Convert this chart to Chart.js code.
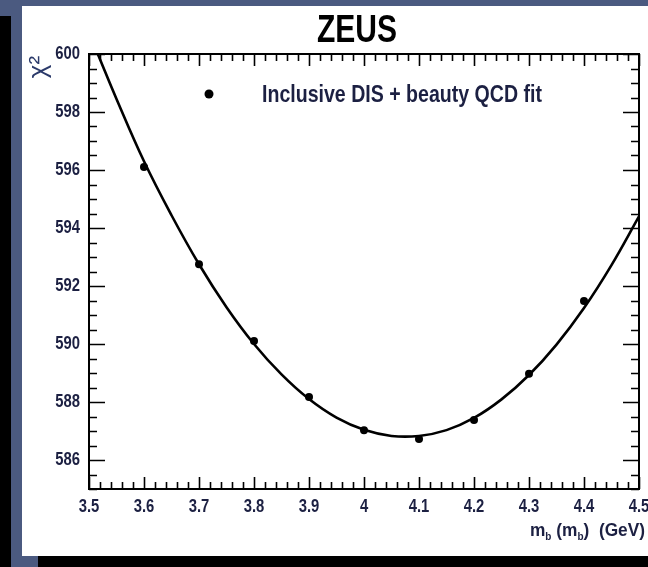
<!DOCTYPE html>
<html>
<head>
<meta charset="utf-8">
<script src="https://cdn.jsdelivr.net/npm/chart.js@4.4.0/dist/chart.umd.min.js"></script>
<style>
  html, body { margin: 0; padding: 0; }
  body { width: 648px; height: 567px; position: relative; overflow: hidden; background: #4b5a80; }
  #stripLeft { position: absolute; left: 0; top: 16px; width: 11px; height: 551px; background: #000; }
  #stripBottom { position: absolute; left: 38px; top: 556px; width: 610px; height: 11px; background: #000; }
  #panel { position: absolute; left: 22px; top: 6px; width: 626px; height: 550px; background: #fff; }
</style>
</head>
<body>
<div id="stripLeft"></div>
<div id="stripBottom"></div>
<div id="panel"><canvas id="chi2Chart" width="626" height="550"></canvas></div>
<script>
// measured points: chi2 vs b-quark mass
const massPoints = [3.6, 3.7, 3.8, 3.9, 4.0, 4.1, 4.2, 4.3, 4.4];
const chi2Points = [596.1, 592.75, 590.1, 588.17, 587.03, 586.72, 587.38, 588.97, 591.48];

// fitted curve
const fitMass = [3.516, 3.55, 3.6, 3.65, 3.7, 3.75, 3.8, 3.85, 3.9, 3.95, 4.0,
                 4.05, 4.1, 4.15, 4.2, 4.25, 4.3, 4.35, 4.4, 4.45, 4.5];
const fitChi2 = [600.0, 598.45, 596.3, 594.44, 592.75, 591.27, 590.0, 588.95, 588.1, 587.46, 587.04,
                 586.83, 586.83, 587.03, 587.45, 588.09, 588.93, 589.98, 591.24, 592.72, 594.4];

// axes
const xTicks = [3.5, 3.6, 3.7, 3.8, 3.9, 4.0, 4.1, 4.2, 4.3, 4.4, 4.5];
const xTickLabels = ['3.5', '3.6', '3.7', '3.8', '3.9', '4', '4.1', '4.2', '4.3', '4.4', '4.5'];
const yTicks = [586, 588, 590, 592, 594, 596, 598, 600];
const xMinorStep = 0.02;
const yMinorStep = 0.5;

const sans = "'Liberation Sans', Arial, sans-serif";
const textColor = '#1c2042';

// draw text squeezed horizontally (no narrow font installed)
function squeezed(ctx, text, x, y, font, align, sx) {
  ctx.save();
  ctx.font = font;
  ctx.translate(x, y);
  ctx.scale(sx, 1);
  ctx.textAlign = align;
  ctx.fillText(text, 0, 0);
  ctx.restore();
}
// squeeze factor so that text fits a given width
function fitFactor(ctx, text, font, width) {
  ctx.save();
  ctx.font = font;
  const w = ctx.measureText(text).width;
  ctx.restore();
  return width / w;
}

// ROOT style frame with inward ticks on all four sides, plus the texts
const zeusFrame = {
  id: 'zeusFrame',
  afterDatasetsDraw(chart) {
    const ctx = chart.ctx;
    const a = chart.chartArea;
    const xs = chart.scales.x, ys = chart.scales.y;
    ctx.save();
    ctx.strokeStyle = '#000';
    ctx.lineWidth = 2;
    ctx.strokeRect(a.left, a.top, a.right - a.left, a.bottom - a.top);

    ctx.lineWidth = 1.6;
    ctx.beginPath();
    for (let v = xs.min; v <= xs.max + 1e-9; v += xMinorStep) {
      const px = Math.round(xs.getPixelForValue(v)) + 0.5;
      const major = xTicks.some(t => Math.abs(t - v) < 1e-6);
      const len = major ? 12 : 7;
      ctx.moveTo(px, a.bottom); ctx.lineTo(px, a.bottom - len);
      ctx.moveTo(px, a.top); ctx.lineTo(px, a.top + len);
    }
    for (let v = ys.min; v <= ys.max + 1e-9; v += yMinorStep) {
      const py = Math.round(ys.getPixelForValue(v)) + 0.5;
      const major = yTicks.includes(v);
      const len = major ? 16 : 8;
      ctx.moveTo(a.left, py); ctx.lineTo(a.left + len, py);
      ctx.moveTo(a.right, py); ctx.lineTo(a.right - len, py);
    }
    ctx.stroke();

    // tick labels
    const tickFont = 'bold 19px ' + sans;
    ctx.fillStyle = textColor;
    ctx.textBaseline = 'middle';
    yTicks.forEach(v => squeezed(ctx, String(v), a.left - 9, ys.getPixelForValue(v), tickFont, 'right', 0.78));
    xTicks.forEach((v, i) => squeezed(ctx, xTickLabels[i], xs.getPixelForValue(v), a.bottom + 18, tickFont, 'center', 0.78));

    // title
    ctx.fillStyle = '#000';
    const titleFont = 'bold 39px ' + sans;
    squeezed(ctx, 'ZEUS', 335, 25, titleFont, 'center', fitFactor(ctx, 'ZEUS', titleFont, 80));

    // legend
    ctx.beginPath();
    ctx.arc(187, 88, 4.5, 0, Math.PI * 2);
    ctx.fill();
    ctx.fillStyle = textColor;
    const legText = 'Inclusive DIS + beauty QCD fit';
    const legFont = 'bold 24px ' + sans;
    squeezed(ctx, legText, 240, 89, legFont, 'left', fitFactor(ctx, legText, legFont, 280));

    // y title
    ctx.save();
    ctx.translate(17, 61);
    ctx.rotate(-Math.PI / 2);
    ctx.fillStyle = '#2b3a6a';
    ctx.font = '26px ' + sans;
    ctx.textAlign = 'center';
    ctx.fillText('\u03c7\u00b2', 0, 0);
    ctx.restore();

    // x title with subscripts
    const parts = [['m', false], ['b', true], [' (m', false], ['b', true], [')  (GeV)', false]];
    const bigFont = 'bold 19px ' + sans, smallFont = 'bold 11px ' + sans;
    let total = 0;
    parts.forEach(p => { ctx.font = p[1] ? smallFont : bigFont; total += ctx.measureText(p[0]).width; });
    const sx = 115 / total;
    ctx.save();
    ctx.translate(623 - 115, 530);
    ctx.scale(sx, 1);
    ctx.textBaseline = 'alphabetic';
    let x = 0;
    parts.forEach(p => {
      ctx.font = p[1] ? smallFont : bigFont;
      ctx.fillText(p[0], x, p[1] ? 4 : 0);
      x += ctx.measureText(p[0]).width;
    });
    ctx.restore();
    ctx.restore();
  }
};

const ctx = document.getElementById('chi2Chart').getContext('2d');
const chi2Chart = new Chart(ctx, {
  type: 'scatter',
  data: {
    datasets: [{
      label: 'Inclusive DIS + beauty QCD fit',
      data: massPoints.map((m, i) => ({ x: m, y: chi2Points[i] })),
      backgroundColor: '#000',
      borderWidth: 0,
      pointRadius: 4,
      order: 0
    }, {
      label: 'fit',
      data: fitMass.map((m, i) => ({ x: m, y: fitChi2[i] })),
      showLine: true,
      borderColor: '#000',
      borderWidth: 2.6,
      pointRadius: 0,
      tension: 0.4,
      order: 1
    }]
  },
  options: {
    responsive: false,
    animation: false,
    layout: { padding: { left: 0, right: 9, top: 48, bottom: 0 } },
    plugins: {
      legend: { display: false },
      tooltip: { enabled: false }
    },
    scales: {
      x: {
        type: 'linear',
        min: 3.5,
        max: 4.5,
        grid: { display: false, drawTicks: false },
        border: { display: false },
        afterBuildTicks: s => { s.ticks = xTicks.map(v => ({ value: v })); },
        afterFit: s => { s.height = 67; },
        ticks: { display: false }
      },
      y: {
        min: 585,
        max: 600,
        grid: { display: false, drawTicks: false },
        border: { display: false },
        afterBuildTicks: s => { s.ticks = yTicks.map(v => ({ value: v })); },
        afterFit: s => { s.width = 67; },
        ticks: { display: false }
      }
    }
  },
  plugins: [zeusFrame]
});
</script>
</body>
</html>
